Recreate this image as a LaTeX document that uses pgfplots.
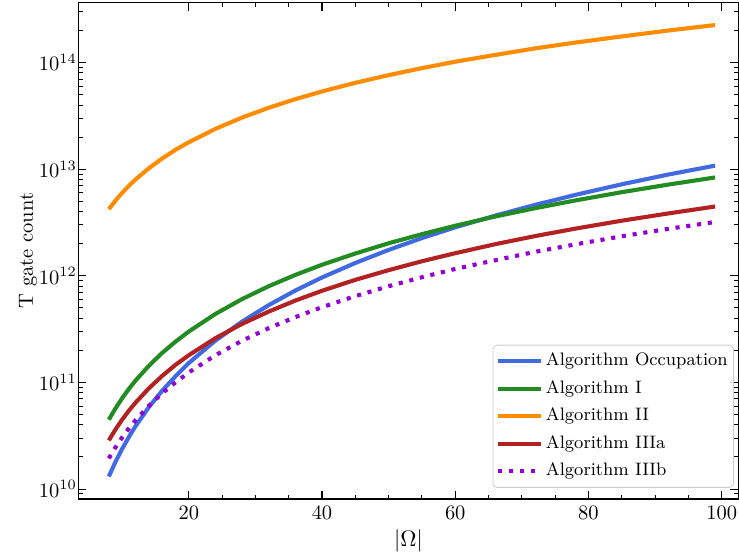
\documentclass[border=0pt]{standalone}
\usepackage{pgfplots}
\usepackage{pgfplotstable}
\pgfplotsset{compat=1.18}
\usetikzlibrary{calc}
\definecolor{cocc}{HTML}{4169E1}
\definecolor{cone}{HTML}{228B22}
\definecolor{ctwo}{HTML}{FF8C00}
\definecolor{cthreea}{HTML}{B22222}
\definecolor{cthreeb}{HTML}{9400D3}

% T gate counts
\pgfplotstableread{
n   occ      one      two      threea   threeb
8   1.31e10  4.47e10  4.22e12  2.86e10  1.94e10
9   1.80e10  5.71e10  5.08e12  3.62e10  2.46e10
10  2.38e10  7.11e10  6.00e12  4.47e10  3.05e10
11  3.07e10  8.66e10  6.97e12  5.42e10  3.70e10
12  3.88e10  1.04e11  8.00e12  6.45e10  4.41e10
14  5.85e10  1.43e11  1.02e13  8.79e10  6.03e10
16  8.35e10  1.89e11  1.26e13  1.15e11  7.91e10
18  1.14e11  2.41e11  1.52e13  1.46e11  1.00e11
20  1.52e11  3.00e11  1.79e13  1.80e11  1.24e11
24  2.47e11  4.39e11  2.39e13  2.60e11  1.80e11
28  3.72e11  6.05e11  3.05e13  3.54e11  2.46e11
32  5.31e11  7.99e11  3.77e13  4.62e11  3.23e11
36  7.28e11  1.02e12  4.54e13  5.86e11  4.10e11
40  9.65e11  1.27e12  5.36e13  7.24e11  5.08e11
45  1.32e12  1.62e12  6.46e13  9.17e11  6.45e11
50  1.75e12  2.02e12  7.63e13  1.13e12  7.99e11
55  2.26e12  2.46e12  8.87e13  1.37e12  9.70e11
60  2.85e12  2.95e12  1.02e14  1.63e12  1.16e12
66  3.67e12  3.60e12  1.18e14  1.98e12  1.40e12
72  4.63e12  4.31e12  1.36e14  2.36e12  1.68e12
78  5.74e12  5.09e12  1.54e14  2.77e12  1.97e12
85  7.22e12  6.09e12  1.76e14  3.29e12  2.35e12
92  8.92e12  7.18e12  2.00e14  3.85e12  2.76e12
99  1.08e13  8.37e12  2.25e14  4.47e12  3.20e12
}\tgates

\begin{document}
\begin{tikzpicture}
\begin{semilogyaxis}[
  scale only axis,
  width=322pt, height=242.1pt,
  xmin=3.45, xmax=102.5,
  ymin=8.1e9, ymax=3.65e14,
  xtick={20,40,60,80,100},
  minor x tick num=3,
  tick align=inside,
  major tick length=3.9pt,
  minor tick length=2pt,
  axis line style={line width=0.8pt},
  every tick/.style={black, line width=0.5pt},
  yticklabel style={inner xsep=0.6pt},
  xlabel={$|\Omega|$},
  ylabel={T gate count},
  xlabel style={font=\fontsize{10.7}{12}\selectfont},
  xlabel shift=-2pt,
  ylabel shift=-3.2pt,
  legend cell align=left,
  legend image code/.code={\draw[#1] (0pt,0pt) -- (21pt,0pt);},
  legend style={
    at={(0.9932,0.0222)}, anchor=south east,
    font=\fontsize{8.8}{10}\selectfont,
    draw=black!20, rounded corners=2pt,
    fill=white, fill opacity=0.8, text opacity=1,
    inner xsep=1.5pt, inner ysep=1.2pt,
    row sep=0pt,
    nodes={inner xsep=1.3pt, inner ysep=2.5pt, text height=6.4pt, text depth=2pt},
  },
]
\coordinate (bl) at (rel axis cs:0,0);
\coordinate (tr) at (rel axis cs:1,1);
\addplot[cocc, line width=2pt] table[x=n, y=occ] {\tgates};
\addlegendentry{Algorithm Occupation}
\addplot[cone, line width=2pt] table[x=n, y=one] {\tgates};
\addlegendentry{Algorithm I}
\addplot[ctwo, line width=2pt] table[x=n, y=two] {\tgates};
\addlegendentry{Algorithm II}
\addplot[cthreea, line width=2pt] table[x=n, y=threea] {\tgates};
\addlegendentry{Algorithm IIIa}
\addplot[cthreeb, line width=2pt, dash pattern=on 2pt off 3.3pt] table[x=n, y=threeb] {\tgates};
\addlegendentry{Algorithm IIIb}
\end{semilogyaxis}
\pgfresetboundingbox
\path[use as bounding box] ([xshift=-38.3pt,yshift=-27.8pt]bl) rectangle ([xshift=0.3pt,yshift=1.3pt]tr);
\end{tikzpicture}
\end{document}
